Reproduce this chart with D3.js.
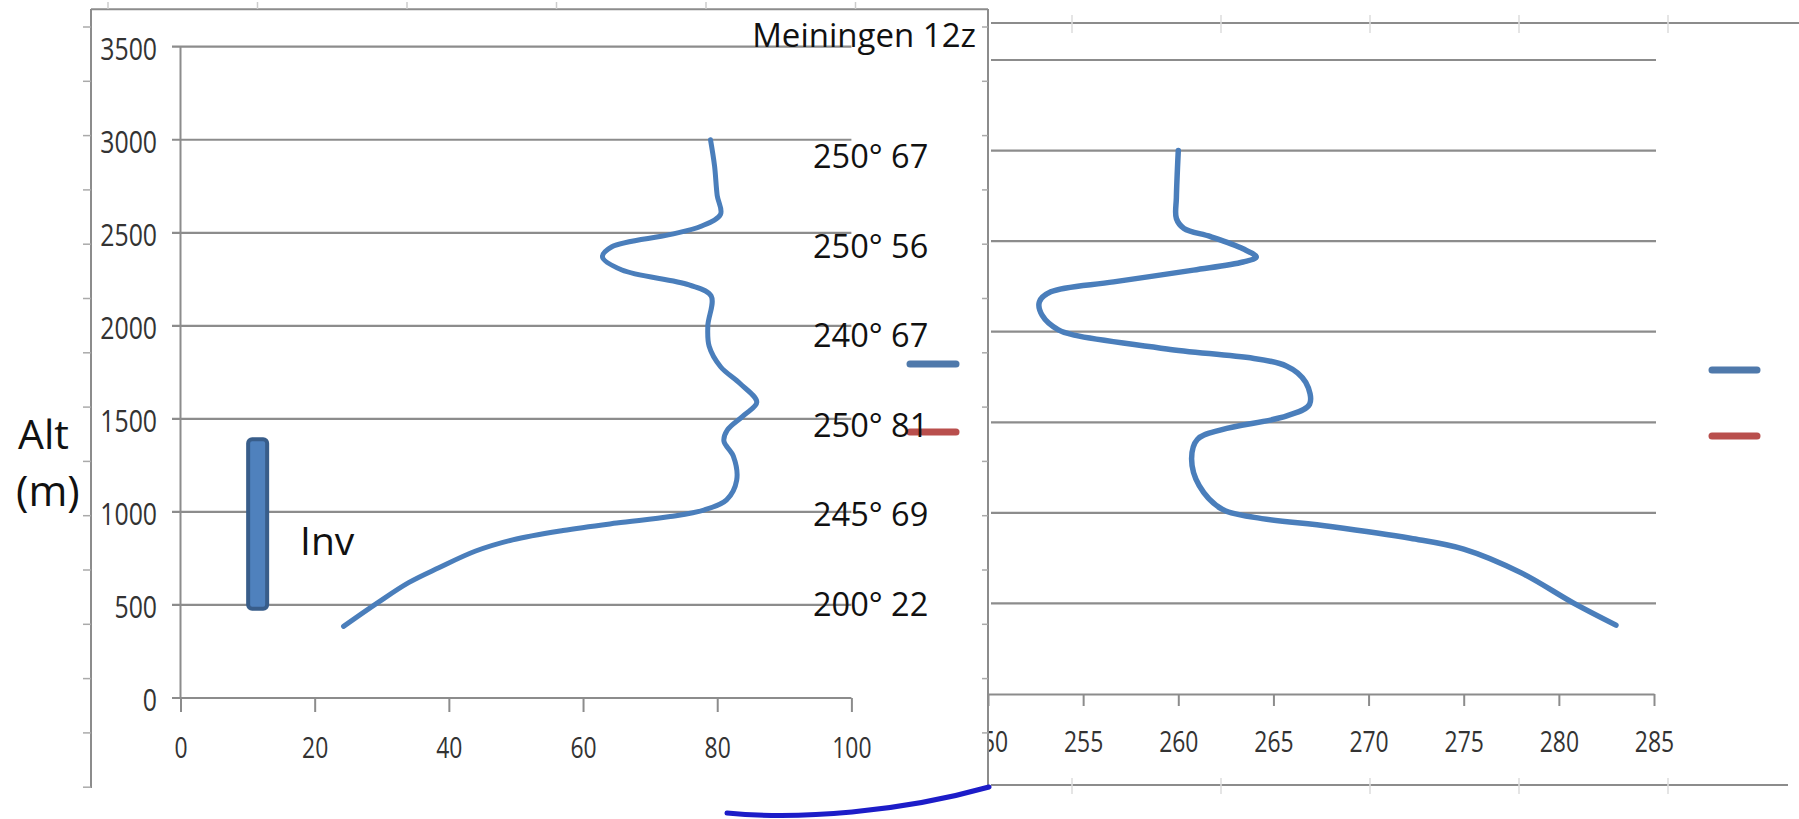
<!DOCTYPE html>
<html>
<head>
<meta charset="utf-8">
<script src="https://cdn.jsdelivr.net/npm/d3@7"></script>
<style>
  html, body { margin: 0; padding: 0; background: #fff; }
  svg { display: block; }
</style>
</head>
<body>
<div id="chart"></div>
<script>
// left panel: humidity (%) against altitude (m)
const humAlt = [385, 510, 620, 700, 790, 850, 900, 940, 975, 1010, 1065, 1170, 1300, 1380, 1440, 1520, 1590, 1690, 1780, 1890, 2000, 2160, 2220, 2300, 2370, 2425, 2490, 2535, 2600, 2700, 2860, 3000];
const humVal = [24.3, 29.3, 34, 38.5, 44, 49.5, 57, 65, 73, 78, 81.4, 82.9, 82.4, 81, 81.5, 84, 85.9, 83.4, 80.5, 78.8, 78.6, 79.1, 75.8, 65.8, 62.9, 64.3, 72.9, 77.6, 80.5, 80, 79.6, 79];

// right panel: potential temperature (K) against altitude (m)
const tempAlt = [380, 500, 670, 800, 860, 925, 975, 1020, 1150, 1300, 1405, 1460, 1535, 1600, 1720, 1810, 1905, 1980, 2010, 2090, 2165, 2220, 2275, 2340, 2385, 2412, 2458, 2525, 2570, 2625, 2740, 3000];
const tempVal = [283, 280.8, 278, 275, 272.2, 268, 264, 262.3, 261.1, 260.7, 261, 262.3, 265.7, 266.9, 266.7, 265.7, 259.4, 254.6, 253.7, 252.85, 252.7, 253.3, 256.6, 260.8, 263.4, 264.1, 263.4, 261.7, 260.3, 259.9, 259.9, 260];

// wind direction / speed per level, top to bottom
const windLabels = ["250\u00b0 67", "250\u00b0 56", "240\u00b0 67", "250\u00b0 81", "245\u00b0 69", "200\u00b0 22"];
const chartTitle = "Meiningen 12z";

// inversion layer
const invX = 11.5;
const invBase = 480;
const invTop = 1390;

const leftXTicks = [0, 20, 40, 60, 80, 100];
const leftYTicks = [0, 500, 1000, 1500, 2000, 2500, 3000, 3500];
const rightXTicks = [250, 255, 260, 265, 270, 275, 280, 285];
const rightYGrid = [500, 1000, 1500, 2000, 2500, 3000, 3500];

const width = 1799, height = 819;
const font = "'Open Sans', 'Liberation Sans', sans-serif";
const gridColor = "#8c8c8c";
const lineBlue = "#4a7ebb";
const legendBlue = "#4f79ab";
const legendRed = "#b94f4d";

const svg = d3.select("#chart").append("svg")
  .attr("width", width)
  .attr("height", height)
  .attr("font-family", font);

function hline(g, y, x1, x2, w) {
  g.append("line").attr("x1", x1).attr("x2", x2).attr("y1", y).attr("y2", y)
    .attr("stroke", gridColor).attr("stroke-width", w || 2.2);
}
function vline(g, x, y1, y2, w) {
  g.append("line").attr("x1", x).attr("x2", x).attr("y1", y1).attr("y2", y2)
    .attr("stroke", gridColor).attr("stroke-width", w || 2);
}

// ---------- right chart (sits behind) ----------
const xR = d3.scaleLinear().domain([250, 285]).range([988, 1654]);
const yR = d3.scaleLinear().domain([0, 3500]).range([694, 60]);

const right = svg.append("g");
hline(right, 23, 991, 1799);
hline(right, 785, 991, 1788);
d3.range(1072, 1700, 149).forEach(x => {
  right.append("line").attr("x1", x).attr("x2", x).attr("y1", 15).attr("y2", 33)
    .attr("stroke", "#ddd").attr("stroke-width", 1.5);
  right.append("line").attr("x1", x).attr("x2", x).attr("y1", 778).attr("y2", 794)
    .attr("stroke", "#ddd").attr("stroke-width", 1.5);
});
rightYGrid.forEach(v => hline(right, yR(v), 991, 1656));

const axR = right.append("g")
  .attr("transform", `translate(0,${yR(0)})`)
  .call(d3.axisBottom(xR).tickValues(rightXTicks).tickSize(12).tickSizeOuter(0));
axR.select(".domain").attr("stroke", gridColor).attr("stroke-width", 2.2);
axR.selectAll(".tick line").attr("stroke", gridColor).attr("stroke-width", 2);
axR.selectAll(".tick text")
  .attr("y", 58).attr("dy", 0)
  .attr("font-size", 29).attr("font-family", font)
  .attr("fill", "#333")
  .attr("transform", "scale(0.79,1)");

right.append("path")
  .datum(d3.zip(tempVal, tempAlt))
  .attr("fill", "none")
  .attr("stroke", lineBlue)
  .attr("stroke-width", 5.5)
  .attr("stroke-linecap", "round")
  .attr("d", d3.line().x(d => xR(d[0])).y(d => yR(d[1])).curve(d3.curveCatmullRom.alpha(0.5)));

[[370, legendBlue], [436, legendRed]].forEach(([y, c]) => {
  right.append("line").attr("x1", 1712).attr("x2", 1757).attr("y1", y).attr("y2", y)
    .attr("stroke", c).attr("stroke-width", 7).attr("stroke-linecap", "round");
});

// ---------- left chart (pasted on top) ----------
const left = svg.append("g");
left.append("rect").attr("x", 91).attr("y", 9).attr("width", 897).attr("height", 810).attr("fill", "#fff");

hline(left, 9.3, 91, 988, 2);
vline(left, 91, 9, 788);
vline(left, 988, 9, 785);
d3.range(27, 792, 54.3).forEach(y => {
  left.append("line").attr("x1", 83).attr("x2", 91).attr("y1", y).attr("y2", y).attr("stroke", "#aaa").attr("stroke-width", 1.5);
  left.append("line").attr("x1", 982).attr("x2", 988).attr("y1", y).attr("y2", y).attr("stroke", "#aaa").attr("stroke-width", 1.5);
});
d3.range(108, 900, 149.5).forEach(x => {
  left.append("line").attr("x1", x).attr("x2", x).attr("y1", 2).attr("y2", 9).attr("stroke", "#ccc").attr("stroke-width", 1.5);
});

const xL = d3.scaleLinear().domain([0, 100]).range([180.5, 851.4]);
const yL = d3.scaleLinear().domain([0, 3500]).range([698, 46.7]);

leftYTicks.forEach(v => hline(left, yL(v), 172, xL(100)));
vline(left, xL(0), yL(3500), yL(0), 2);

const axL = left.append("g")
  .attr("transform", `translate(0,${yL(0)})`)
  .call(d3.axisBottom(xL).tickValues(leftXTicks).tickSize(14).tickSizeOuter(0));
axL.select(".domain").remove();
axL.selectAll(".tick line").attr("stroke", gridColor).attr("stroke-width", 2);
axL.selectAll(".tick text")
  .attr("y", 60).attr("dy", 0)
  .attr("font-size", 29).attr("font-family", font)
  .attr("fill", "#333")
  .attr("transform", "scale(0.79,1)");

left.append("g").selectAll("text")
  .data(leftYTicks)
  .join("text")
  .attr("transform", d => `translate(157,${yL(d) + 2}) scale(0.8,1)`)
  .attr("text-anchor", "end")
  .attr("dy", "0.36em")
  .attr("font-size", 31)
  .attr("fill", "#333")
  .text(d => d);

left.append("path")
  .datum(d3.zip(humVal, humAlt))
  .attr("fill", "none")
  .attr("stroke", lineBlue)
  .attr("stroke-width", 5)
  .attr("stroke-linecap", "round")
  .attr("d", d3.line().x(d => xL(d[0])).y(d => yL(d[1])).curve(d3.curveCatmullRom.alpha(0.5)));

// inversion bar
left.append("rect")
  .attr("x", xL(invX) - 9.5)
  .attr("y", yL(invTop))
  .attr("width", 19)
  .attr("height", yL(invBase) - yL(invTop))
  .attr("rx", 4)
  .attr("fill", "#4f81bd")
  .attr("stroke", "#385d8a")
  .attr("stroke-width", 4);

left.append("text").attr("x", 300).attr("y", 555).attr("font-size", 39).attr("fill", "#111").text("Inv");
left.append("text").attr("x", 18).attr("y", 449).attr("font-size", 41).attr("fill", "#111").text("Alt");
left.append("text").attr("x", 16).attr("y", 506).attr("font-size", 42).attr("fill", "#111").text("(m)");

// legend keys of the left chart
[[364, legendBlue], [432, legendRed]].forEach(([y, c]) => {
  left.append("line").attr("x1", 910).attr("x2", 956).attr("y1", y).attr("y2", y)
    .attr("stroke", c).attr("stroke-width", 7).attr("stroke-linecap", "round");
});

left.append("text")
  .attr("x", 976).attr("y", 47)
  .attr("text-anchor", "end")
  .attr("font-size", 33)
  .attr("fill", "#111")
  .text(chartTitle);

left.append("g").selectAll("text")
  .data(windLabels)
  .join("text")
  .attr("x", 813)
  .attr("y", (d, i) => 168 + i * 89.6)
  .attr("font-size", 32.5)
  .attr("fill", "#111")
  .text(d => d);

// stray stroke at the bottom
svg.append("path")
  .attr("d", "M727,813 C800,820 900,812 989,787")
  .attr("fill", "none")
  .attr("stroke", "#1c1cc8")
  .attr("stroke-width", 5)
  .attr("stroke-linecap", "round");
</script>
</body>
</html>
